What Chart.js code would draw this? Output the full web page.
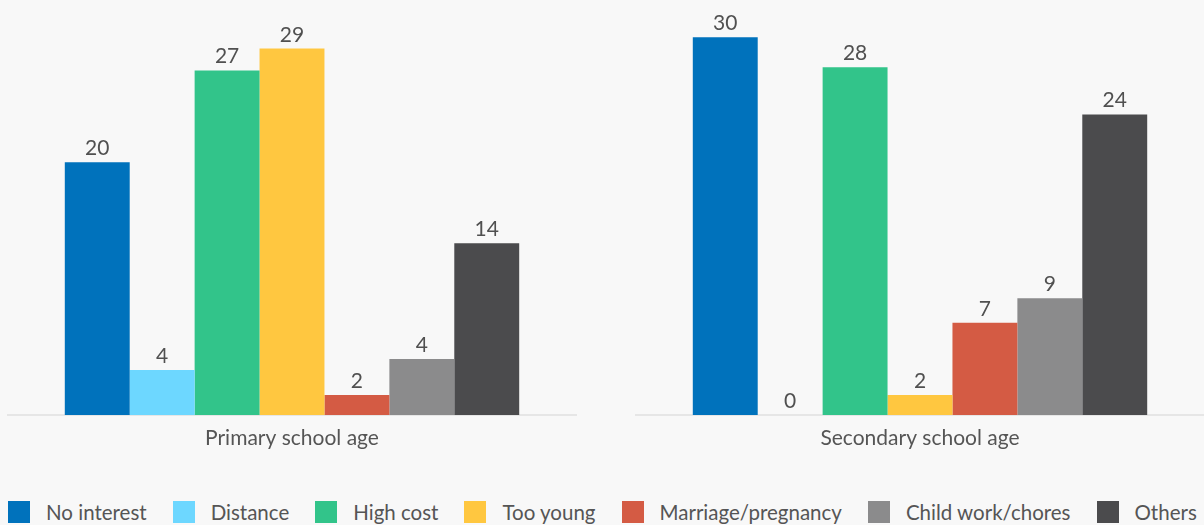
<!DOCTYPE html>
<html>
<head>
<meta charset="utf-8">
<script src="https://cdn.jsdelivr.net/npm/chart.js@4"></script>
<style>
  html, body { margin: 0; padding: 0; background: #f8f8f8; }
  body { width: 1204px; height: 525px; position: relative; overflow: hidden; font-family: Lato, sans-serif; }
  canvas { position: absolute; top: 0; }
  #leftChart { left: 0; }
  #rightChart { left: 604px; }
  .legend { position: absolute; left: 8px; top: 500px; display: flex; align-items: center; white-space: nowrap; }
  .legend .item { display: flex; align-items: center; margin-right: 26px; font-size: 20.5px; color: #555; }
  .legend .box { width: 22px; height: 22px; margin-right: 16px; }
</style>
</head>
<body>
<canvas id="leftChart" width="600" height="470"></canvas>
<canvas id="rightChart" width="600" height="470"></canvas>
<div class="legend" id="legend"></div>

<script>
/* ============ DATA ============ */

const categories = ["Primary school age", "Secondary school age"];

const seriesNames = [
  "No interest", "Distance", "High cost", "Too young",
  "Marriage/pregnancy", "Child work/chores", "Others"
];

const seriesColors = [
  "#0072bc", "#6dd7ff", "#32c48a", "#ffc740",
  "#d45b44", "#8b8b8c", "#4b4b4d"
];

// percentages (labels shown rounded)
const primaryValues = [20.06, 3.57, 27.36, 29.1, 1.59, 4.44, 13.64];
const secondaryValues = [30.0, 0, 27.62, 1.59, 7.32, 9.28, 23.87];


/* ============ VALUE LABELS ABOVE BARS ============ */

const barLabels = {
  id: "barLabels",
  afterDatasetsDraw(chart) {
    const ctx = chart.ctx;
    ctx.save();
    ctx.font = "21px Lato";
    ctx.fillStyle = "#505050";
    ctx.textAlign = "center";
    ctx.textBaseline = "alphabetic";
    chart.data.datasets.forEach((ds, i) => {
      chart.getDatasetMeta(i).data.forEach((bar, j) => {
        ctx.fillText(Math.round(ds.data[j]), bar.x, bar.y - 7);
      });
    });
    ctx.restore();
  }
};


/* ============ CHART BUILDER ============ */

Chart.defaults.font.family = "Lato";

function createPanel(canvasId, category, values, padLeft, padRight) {
  new Chart(document.getElementById(canvasId), {
    type: "bar",
    data: {
      labels: [category],
      datasets: seriesNames.map((name, i) => ({
        label: name,
        data: [values[i]],
        backgroundColor: seriesColors[i],
        categoryPercentage: 0.8,
        barPercentage: 1.0
      }))
    },
    options: {
      responsive: false,
      animation: false,
      layout: { padding: { left: padLeft, right: padRight, top: 12, bottom: 0 } },
      plugins: {
        legend: { display: false },
        tooltip: { enabled: false }
      },
      scales: {
        x: {
          grid: { display: false },
          border: { color: "#e6e6e6", width: 2 },
          ticks: { color: "#555", font: { size: 21 }, padding: 3 },
          afterFit(scale) { scale.height = 55; }
        },
        y: { display: false, min: 0, max: 32 }
      }
    },
    plugins: [barLabels]
  });
}

createPanel("leftChart", categories[0], primaryValues, 8, 24);
createPanel("rightChart", categories[1], secondaryValues, 32, 0);


/* ============ LEGEND ============ */

let html = "";
seriesNames.forEach((name, i) => {
  html += `<div class="item"><span class="box" style="background:${seriesColors[i]}"></span>${name}</div>`;
});
document.getElementById("legend").innerHTML = html;
</script>
</body>
</html>
